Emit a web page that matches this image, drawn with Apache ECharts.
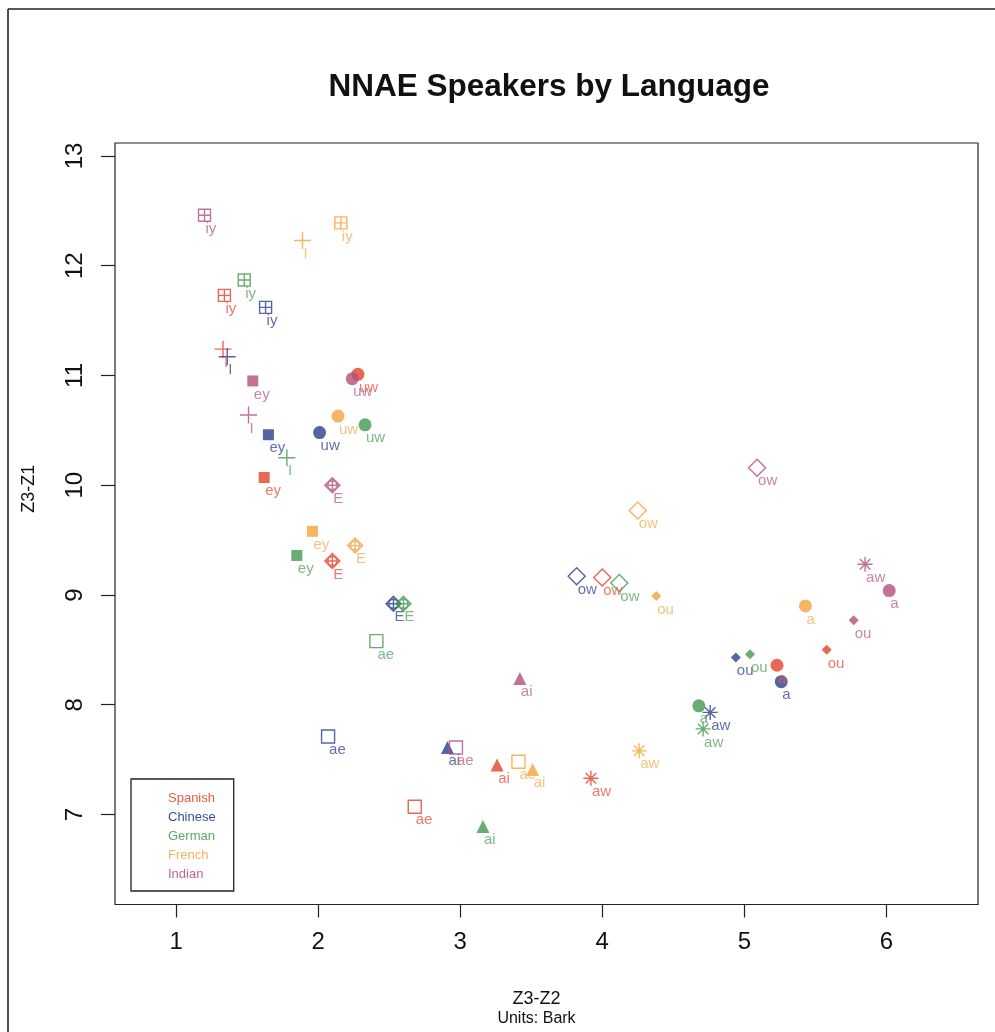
<!DOCTYPE html>
<html>
<head>
<meta charset="utf-8">
<script src="https://cdn.jsdelivr.net/npm/echarts@6/dist/echarts.min.js"></script>
<style>
html,body{margin:0;padding:0;background:#fff;}
#chart{width:995px;height:1032px;}
</style>
</head>
<body>
<div id="chart"></div>
<script>
// Vowel categories (same order for every language)
var vowels = ['iy', 'I', 'ey', 'E', 'ae', 'ai', 'aw', 'a', 'ou', 'ow', 'uw'];
var languages = ['Spanish', 'Chinese', 'German', 'French', 'Indian'];

// Z3-Z2 (x) and Z3-Z1 (y) per language, in vowel order
var spanishX = [1.34, 1.33, 1.62, 2.10, 2.68, 3.26, 3.92, 5.23, 5.58, 4.00, 2.28];
var spanishY = [11.73, 11.24, 10.07, 9.31, 7.07, 7.45, 7.33, 8.36, 8.50, 9.16, 11.01];
var chineseX = [1.63, 1.36, 1.65, 2.53, 2.07, 2.91, 4.76, 5.26, 4.94, 3.82, 2.01];
var chineseY = [11.62, 11.17, 10.46, 8.92, 7.71, 7.61, 7.93, 8.21, 8.43, 9.17, 10.48];
var germanX = [1.48, 1.78, 1.85, 2.60, 2.41, 3.16, 4.71, 4.68, 5.04, 4.12, 2.33];
var germanY = [11.87, 10.25, 9.36, 8.92, 8.58, 6.89, 7.78, 7.99, 8.46, 9.11, 10.55];
var frenchX = [2.16, 1.89, 1.96, 2.26, 3.41, 3.51, 4.26, 5.43, 4.38, 4.25, 2.14];
var frenchY = [12.39, 12.23, 9.58, 9.45, 7.48, 7.41, 7.58, 8.90, 8.99, 9.77, 10.63];
var indianX = [1.20, 1.51, 1.54, 2.10, 2.97, 3.42, 5.85, 6.02, 5.77, 5.09, 2.24];
var indianY = [12.46, 10.64, 10.95, 10.00, 7.61, 8.24, 9.28, 9.04, 8.77, 10.16, 10.97];

var xTicks = [1, 2, 3, 4, 5, 6];
var yTicks = [7, 8, 9, 10, 11, 12, 13];

var colors = ['#e5402b', '#2b3f8c', '#45994f', '#f2a23e', '#b24f7d'];
var labelColors = ['#ea5a45', '#3a4c92', '#5ea668', '#f3b25e', '#bb6690'];

// marker per vowel: [symbol, size, hollow]
var markers = {
  iy: ['path://M0,0L10,0L10,10L0,10Z M5,0L5,10 M0,5L10,5', 12, true],
  I:  ['path://M5,0L5,10 M0,5L10,5', 17, true],
  ey: ['rect', 11, false],
  E:  ['path://M5,0L10,5L5,10L0,5Z M5,0L5,10 M0,5L10,5 M8,5A3,3,0,1,1,2,5A3,3,0,1,1,8,5', 15, true],
  ae: ['path://M0,0L10,0L10,10L0,10Z', 13, true],
  ai: ['triangle', 13, false],
  aw: ['path://M5,0L5,10 M0,5L10,5 M1.5,1.5L8.5,8.5 M8.5,1.5L1.5,8.5', 15, true],
  a:  ['circle', 13, false],
  ou: ['diamond', 10, false],
  ow: ['path://M5,0L10,5L5,10L0,5Z', 17, true],
  uw: ['circle', 13, false]
};

var xs = [spanishX, chineseX, germanX, frenchX, indianX];
var ys = [spanishY, chineseY, germanY, frenchY, indianY];
var FONT = "'Liberation Sans', Arial, Helvetica, sans-serif";

var series = languages.map(function (lang, li) {
  var c = colors[li];
  return {
    name: lang,
    type: 'scatter',
    color: c,
    emphasis: { disabled: true },
    data: vowels.map(function (v, vi) {
      var m = markers[v];
      return {
        value: [xs[li][vi], ys[li][vi]],
        name: v,
        symbol: m[0],
        symbolSize: m[1],
        itemStyle: m[2]
          ? { color: 'rgba(0,0,0,0)', borderColor: c, borderWidth: 1.4 }
          : { color: c, borderWidth: 0 }
      };
    }),
    label: {
      show: true,
      position: 'inside',
      align: 'left',
      verticalAlign: 'top',
      offset: [1, 6],
      formatter: function (p) { return p.name; },
      fontSize: 15,
      fontFamily: FONT,
      color: labelColors[li]
    }
  };
});

var chart = echarts.init(document.getElementById('chart'), null, { renderer: 'canvas' });
chart.setOption({
  backgroundColor: '#fff',
  animation: false,
  title: {
    text: 'NNAE Speakers by Language',
    left: 544,
    textAlign: 'center',
    top: 66,
    textStyle: { fontSize: 31.5, fontWeight: 'bold', color: '#111', fontFamily: FONT }
  },
  legend: {
    left: 131,
    top: 779,
    orient: 'vertical',
    selectedMode: false,
    icon: 'rect',
    itemWidth: 0,
    itemHeight: 14,
    itemGap: 5,
    borderColor: '#222',
    borderWidth: 1.3,
    padding: [12, 18, 10, 32],
    textStyle: { fontSize: 13, fontFamily: FONT },
    data: languages.map(function (l, i) {
      return { name: l, textStyle: { color: labelColors[i] } };
    })
  },
  grid: {
    left: 115, right: 17, top: 143, bottom: 126,
    show: true, borderColor: '#222', borderWidth: 1.2, backgroundColor: 'transparent'
  },
  xAxis: {
    type: 'value',
    min: 0.57, max: 6.645,
    axisLine: { show: false },
    splitLine: { show: false },
    axisTick: { show: true, length: 13, lineStyle: { color: '#222', width: 1.2 }, customValues: xTicks },
    axisLabel: { fontSize: 24, color: '#111', fontFamily: FONT, margin: 26, customValues: xTicks },
    name: '{a|Z3-Z2}\n{b|Units: Bark}',
    nameLocation: 'middle',
    nameGap: 84,
    nameTextStyle: {
      fontFamily: FONT, color: '#111', align: 'center',
      padding: [0, 20, 0, 0],
      rich: {
        a: { fontSize: 18, lineHeight: 21, fontFamily: FONT, color: '#111' },
        b: { fontSize: 16, lineHeight: 19, fontFamily: FONT, color: '#111' }
      }
    }
  },
  yAxis: {
    type: 'value',
    min: 6.18, max: 13.118,
    axisLine: { show: false },
    splitLine: { show: false },
    axisTick: { show: true, length: 14, lineStyle: { color: '#222', width: 1.2 }, customValues: yTicks },
    axisLabel: { fontSize: 24, color: '#111', fontFamily: FONT, rotate: 90, margin: 28, customValues: yTicks },
    name: 'Z3-Z1',
    nameLocation: 'middle',
    nameRotate: 90,
    nameGap: 77,
    nameTextStyle: { fontSize: 18, color: '#111', fontFamily: FONT, padding: [0, 0, 0, 70] }
  },
  graphic: [
    { type: 'line', shape: { x1: 8, y1: 9, x2: 995, y2: 9 }, style: { stroke: '#222', lineWidth: 1.6 }, silent: true },
    { type: 'line', shape: { x1: 8, y1: 9, x2: 8, y2: 1032 }, style: { stroke: '#222', lineWidth: 1.6 }, silent: true }
  ],
  series: series
});
</script>
</body>
</html>
